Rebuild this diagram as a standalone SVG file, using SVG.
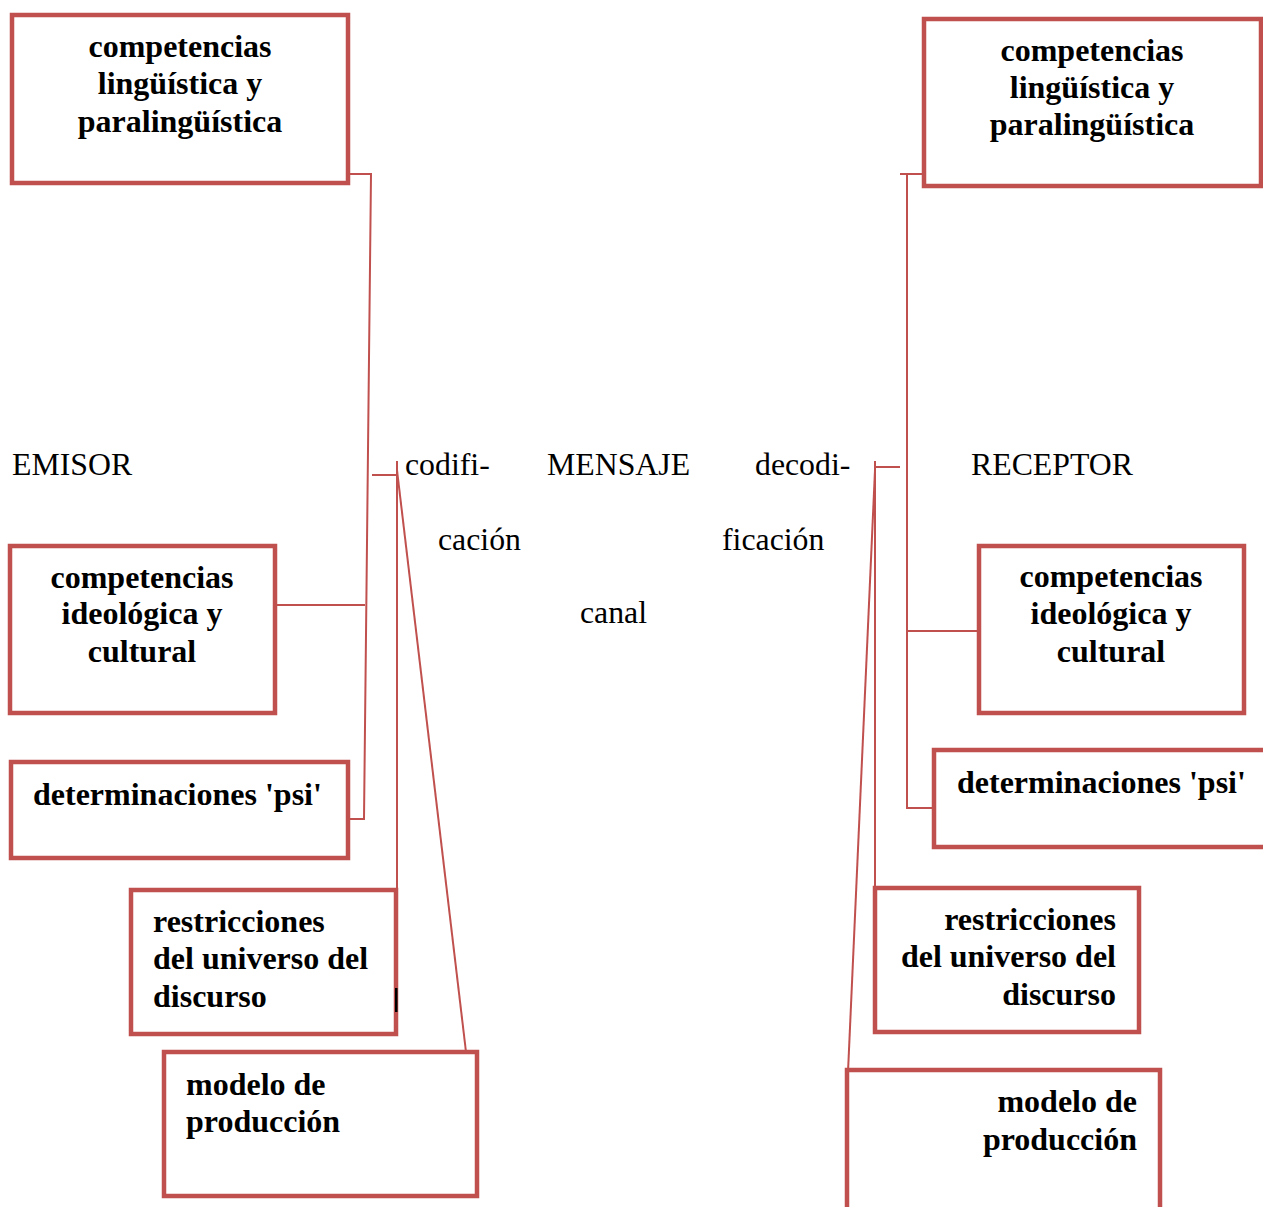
<svg xmlns="http://www.w3.org/2000/svg" width="1263" height="1207" viewBox="0 0 1263 1207">
  <style>
    .box { fill: #ffffff; stroke: #c0504d; stroke-width: 4.5; }
    .wire { fill: none; stroke: #c0504d; stroke-width: 2; }
    .lbl { font-family: "Liberation Serif", "Times New Roman", serif; font-size: 32px; font-weight: bold; fill: #000; }
    .plain { font-family: "Liberation Serif", "Times New Roman", serif; font-size: 31.8px; fill: #000; }
    .mid { text-anchor: middle; }
    .end { text-anchor: end; }
  </style>
  <rect width="1263" height="1207" fill="#ffffff"/>

  <!-- connectors -->
  <g id="connectors">
    <!-- emisor bracket -->
    <polyline class="wire" points="350,174 371,174 364,819 342,819"/>
    <line class="wire" x1="268" y1="605" x2="365" y2="605"/>
    <line class="wire" x1="372" y1="475" x2="396" y2="475"/>
    <line class="wire" x1="397" y1="461" x2="397" y2="890"/>
    <line class="wire" x1="397" y1="470" x2="466" y2="1052"/>
    <!-- receptor bracket -->
    <polyline class="wire" points="922,174 900,174"/>
    <polyline class="wire" points="907,174 907,808 932,808"/>
    <line class="wire" x1="907" y1="631" x2="978" y2="631"/>
    <line class="wire" x1="876" y1="467" x2="900" y2="467"/>
    <line class="wire" x1="875" y1="461" x2="875" y2="888"/>
    <line class="wire" x1="875" y1="470" x2="848" y2="1072"/>
  </g>

  <!-- plain labels -->
  <g id="labels">
    <text class="plain" x="12" y="475">EMISOR</text>
    <text class="plain" x="405" y="475">codifi-</text>
    <text class="plain" x="547" y="475">MENSAJE</text>
    <text class="plain" x="755" y="475">decodi-</text>
    <text class="plain" x="971" y="475">RECEPTOR</text>
    <text class="plain" x="438" y="550">cación</text>
    <text class="plain" x="722" y="550">ficación</text>
    <text class="plain" x="580" y="623">canal</text>
  </g>

  <!-- emisor side -->
  <g id="e-ling">
    <rect class="box" x="12" y="15" width="336" height="168"/>
    <text class="lbl mid" x="180" y="57">competencias</text>
    <text class="lbl mid" x="180" y="94">lingüística y</text>
    <text class="lbl mid" x="180" y="132">paralingüística</text>
  </g>
  <g id="e-ideo">
    <rect class="box" x="10" y="546" width="265" height="167"/>
    <text class="lbl mid" x="142" y="588">competencias</text>
    <text class="lbl mid" x="142" y="624">ideológica y</text>
    <text class="lbl mid" x="142" y="662">cultural</text>
  </g>
  <g id="e-psi">
    <rect class="box" x="11" y="762" width="337" height="96"/>
    <text class="lbl" x="33" y="805">determinaciones 'psi'</text>
  </g>
  <g id="e-restr">
    <rect class="box" x="131" y="890" width="265" height="144"/>
    <text class="lbl" x="153" y="932">restricciones</text>
    <text class="lbl" x="153" y="969">del universo del</text>
    <text class="lbl" x="153" y="1007">discurso</text>
    <rect x="395" y="988" width="2.5" height="24" fill="#000"/>
  </g>
  <g id="e-modelo">
    <rect class="box" x="164" y="1052" width="313" height="144"/>
    <text class="lbl" x="186" y="1095">modelo de</text>
    <text class="lbl" x="186" y="1132">producción</text>
  </g>

  <!-- receptor side -->
  <g id="r-ling">
    <rect class="box" x="924" y="19" width="337" height="167"/>
    <text class="lbl mid" x="1092" y="61">competencias</text>
    <text class="lbl mid" x="1092" y="98">lingüística y</text>
    <text class="lbl mid" x="1092" y="135">paralingüística</text>
  </g>
  <g id="r-ideo">
    <rect class="box" x="979" y="546" width="265" height="167"/>
    <text class="lbl mid" x="1111" y="587">competencias</text>
    <text class="lbl mid" x="1111" y="624">ideológica y</text>
    <text class="lbl mid" x="1111" y="662">cultural</text>
  </g>
  <g id="r-psi">
    <rect class="box" x="934" y="750" width="340" height="97"/>
    <text class="lbl" x="957" y="793">determinaciones 'psi'</text>
  </g>
  <g id="r-restr">
    <rect class="box" x="875" y="888" width="264" height="144"/>
    <text class="lbl end" x="1116" y="930">restricciones</text>
    <text class="lbl end" x="1116" y="967">del universo del</text>
    <text class="lbl end" x="1116" y="1005">discurso</text>
  </g>
  <g id="r-modelo">
    <rect class="box" x="847" y="1070" width="313" height="150"/>
    <text class="lbl end" x="1137" y="1112">modelo de</text>
    <text class="lbl end" x="1137" y="1150">producción</text>
  </g>
</svg>
